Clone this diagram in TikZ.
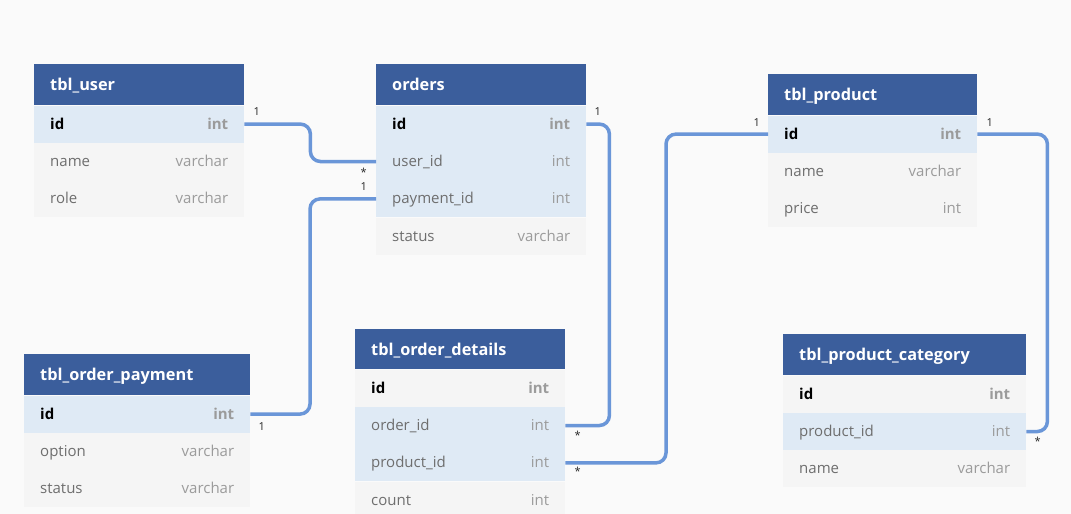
\documentclass[tikz,border=0pt]{standalone}
\usepackage{fontspec}
\setmainfont{Open Sans}
\usepackage{xcolor}
\definecolor{dbhead}{RGB}{59,94,156}
\definecolor{dbkey}{RGB}{223,234,245}
\definecolor{dbrow}{RGB}{245,245,245}
\definecolor{dbback}{RGB}{250,250,250}
\definecolor{dbline}{RGB}{106,150,216}
\definecolor{dbname}{RGB}{110,110,110}
\definecolor{dbtype}{RGB}{155,155,155}
\usetikzlibrary{positioning}
\newcommand{\fname}[1]{\textcolor{dbname}{#1}}
\newcommand{\ftype}[1]{\textcolor{dbtype}{#1}}
\newcommand{\fkey}[1]{\textbf{#1}}
\newcommand{\fkeytype}[1]{\textcolor{dbtype}{\textbf{#1}}}

\begin{document}
\begin{tikzpicture}[
    % GLOBAL CFG
    x=1pt, y=-1pt,
    font=\fontsize{15}{17}\selectfont,
    % Styles
    thead/.style={% table header
        rectangle,
        fill=dbhead,
        text=white,
        font=\fontsize{16.3}{18}\selectfont\bfseries,
        minimum height=41pt,
        inner xsep=16pt,
        inner ysep=0pt,
        text height=13pt,
        text depth=1pt,
        align=left,
        anchor=north west,
        },
    field/.style={% plain row
        rectangle,
        fill=dbrow,
        minimum height=37pt,
        inner xsep=16pt,
        inner ysep=0pt,
        text height=12pt,
        text depth=2pt,
        },
    keyfield/.style={% row taking part in a relation
        field,
        fill=dbkey,
        },
    tw/.style={text width=#1},
    rel/.style={% relation lines
        draw=dbline,
        line width=3.5pt,
        rounded corners=10pt,
        },
    card/.style={% cardinality marks
        font=\fontsize{11}{12}\selectfont,
        text=black!85,
        inner sep=0pt,
        },
    ]

    \useasboundingbox[fill=dbback] (0,0) rectangle (1071,514);

    % tbl_user
    \node[thead, tw=178pt] (user) at (34,64) {tbl\_user};
    \node[keyfield, tw=178pt, below=0pt of user] (user-id) {\fkey{id}\hfill\fkeytype{int}};
    \node[field, tw=178pt, below=0pt of user-id] (user-name) {\fname{name}\hfill\ftype{varchar}};
    \node[field, tw=178pt, below=0pt of user-name] (user-role) {\fname{role}\hfill\ftype{varchar}};

    % orders
    \node[thead, tw=178pt] (orders) at (376,64) {orders};
    \node[keyfield, tw=178pt, below=0pt of orders] (orders-id) {\fkey{id}\hfill\fkeytype{int}};
    \node[keyfield, tw=178pt, below=0pt of orders-id] (orders-uid) {\fname{user\_id}\hfill\ftype{int}};
    \node[keyfield, tw=178pt, below=0pt of orders-uid] (orders-pid) {\fname{payment\_id}\hfill\ftype{int}};
    \node[field, tw=178pt, below=0pt of orders-pid] (orders-status) {\fname{status}\hfill\ftype{varchar}};

    % tbl_product
    \node[thead, tw=177pt] (prod) at (768,74) {tbl\_product};
    \node[keyfield, tw=177pt, below=0pt of prod] (prod-id) {\fkey{id}\hfill\fkeytype{int}};
    \node[field, tw=177pt, below=0pt of prod-id] (prod-name) {\fname{name}\hfill\ftype{varchar}};
    \node[field, tw=177pt, below=0pt of prod-name] (prod-price) {\fname{price}\hfill\ftype{int}};

    % tbl_product_category
    \node[thead, tw=211pt] (cat) at (783,334) {tbl\_product\_category};
    \node[field, tw=211pt, below=0pt of cat] (cat-id) {\fkey{id}\hfill\fkeytype{int}};
    \node[keyfield, tw=211pt, below=0pt of cat-id] (cat-pid) {\fname{product\_id}\hfill\ftype{int}};
    \node[field, tw=211pt, below=0pt of cat-pid] (cat-name) {\fname{name}\hfill\ftype{varchar}};

    % tbl_order_details
    \node[thead, tw=178pt, minimum height=40pt] (det) at (355,329) {tbl\_order\_details};
    \node[field, tw=178pt, below=0pt of det] (det-id) {\fkey{id}\hfill\fkeytype{int}};
    \node[keyfield, tw=178pt, below=0pt of det-id] (det-oid) {\fname{order\_id}\hfill\ftype{int}};
    \node[keyfield, tw=178pt, below=0pt of det-oid] (det-pid) {\fname{product\_id}\hfill\ftype{int}};
    \node[field, tw=178pt, below=0pt of det-pid] (det-count) {\fname{count}\hfill\ftype{int}};

    % tbl_order_payment
    \node[thead, tw=194pt] (pay) at (24,354) {tbl\_order\_payment};
    \node[keyfield, tw=194pt, below=0pt of pay] (pay-id) {\fkey{id}\hfill\fkeytype{int}};
    \node[field, tw=194pt, below=0pt of pay-id] (pay-option) {\fname{option}\hfill\ftype{varchar}};
    \node[field, tw=194pt, below=0pt of pay-option] (pay-status) {\fname{status}\hfill\ftype{varchar}};

    % Relations
    \draw[rel] (user-id.east) -- ++(66,0) |- (orders-uid.west);
    \draw[rel] (orders-pid.west) -- ++(-66,0) |- (pay-id.east);
    \draw[rel] (orders-id.east) -- ++(23,0) |- (det-oid.east);
    \draw[rel] (prod-id.west) -- ++(-102,0) |- (det-pid.east);
    \draw[rel] (prod-id.east) -- ++(70,0) |- (cat-pid.east);

    % Cardinalities
    \node[card, above right=8pt and 9pt of user-id.east] (c1) {1};
    \node[card, below left=6pt and 9pt of orders-uid.west] (c2) {*};
    \node[card, above left=8pt and 9pt of orders-pid.west] (c3) {1};
    \node[card, below right=8pt and 8pt of pay-id.east] (c4) {1};
    \node[card, above right=8pt and 8pt of orders-id.east] (c5) {1};
    \node[card, below right=5pt and 9pt of det-oid.east] (c6) {*};
    \node[card, above left=7pt and 8pt of prod-id.west] (c7) {1};
    \node[card, below right=4pt and 9pt of det-pid.east] (c8) {*};
    \node[card, above right=7pt and 9pt of prod-id.east] (c9) {1};
    \node[card, below right=5pt and 8pt of cat-pid.east] (c10) {*};

\end{tikzpicture}
\end{document}
